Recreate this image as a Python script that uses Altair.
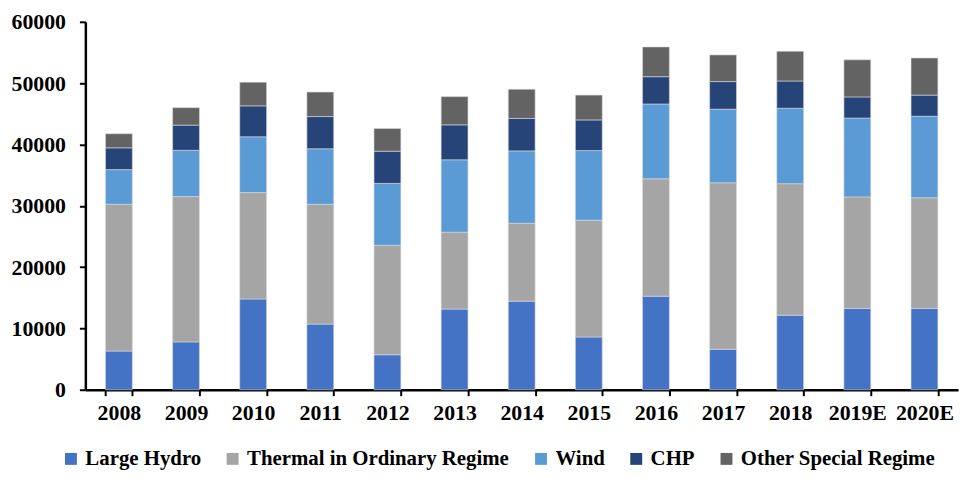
import altair as alt
import pandas as pd

years = ["2008", "2009", "2010", "2011", "2012", "2013", "2014", "2015",
         "2016", "2017", "2018", "2019E", "2020E"]
series = ["Large Hydro", "Thermal in Ordinary Regime", "Wind", "CHP", "Other Special Regime"]
colors = ["#4472C4", "#A5A5A5", "#5B9BD5", "#264478", "#636363"]

large_hydro = [6300, 7800, 14800, 10700, 5700, 13150, 14450, 8600, 15250, 6600, 12150, 13250, 13250]
thermal = [23950, 23700, 17350, 19550, 17850, 12550, 12700, 19050, 19150, 27150, 21450, 18200, 18050]
wind = [5650, 7550, 9100, 9050, 10100, 11800, 11800, 11350, 12200, 12000, 12300, 12850, 13300]
chp = [3550, 4100, 5050, 5250, 5250, 5700, 5300, 5000, 4450, 4500, 4450, 3450, 3450]
other = [2300, 2850, 3850, 4000, 3700, 4600, 4750, 4050, 4850, 4350, 4850, 6050, 6050]

vals = [large_hydro, thermal, wind, chp, other]
rows = []
for si, (s, v) in enumerate(zip(series, vals)):
    for y, val in zip(years, v):
        rows.append({"year": y, "series": s, "value": val, "order": si})
df = pd.DataFrame(rows)

FONT = "'Liberation Serif', 'Times New Roman', serif"

chart = alt.Chart(df).mark_bar(stroke="#d9d9d9", strokeWidth=0.6).encode(
    x=alt.X("year:N", sort=years, title=None,
            scale=alt.Scale(paddingInner=0.6, paddingOuter=0.3),
            axis=alt.Axis(labelAngle=0, tickBand="extent", tickSize=6, tickWidth=2,
                          tickColor="black", domainColor="black", domainWidth=2.5,
                          labelFont=FONT, labelFontWeight="bold", labelFontSize=22,
                          labelColor="black", labelPadding=7)),
    y=alt.Y("value:Q", stack="zero", title=None,
            scale=alt.Scale(domain=[0, 60000]),
            axis=alt.Axis(values=[0, 10000, 20000, 30000, 40000, 50000, 60000],
                          format="d",
                          grid=False, tickSize=6, tickWidth=2, tickColor="black",
                          domainColor="black", domainWidth=2.5,
                          labelFont=FONT, labelFontWeight="bold", labelFontSize=22,
                          labelColor="black", labelPadding=14)),
    color=alt.Color("series:N", sort=series,
                    scale=alt.Scale(domain=series, range=colors),
                    legend=alt.Legend(title=None, orient="none", direction="horizontal",
                                      legendX=-25, legendY=430,
                                      symbolType="square", symbolSize=144,
                                      symbolStrokeWidth=0, labelLimit=0,
                                      labelFont=FONT, labelFontWeight="bold",
                                      labelFontSize=21, labelColor="black",
                                      columnPadding=21, labelOffset=4)),
    order=alt.Order("order:Q", sort="ascending"),
).properties(
    width=880, height=371,
    autosize=alt.AutoSizeParams(type="none"),
    padding={"left": 78, "top": 12, "right": 4, "bottom": 79},
).configure_view(stroke=None)

chart.save("out.html", embed_options={"renderer": "svg", "actions": False})
